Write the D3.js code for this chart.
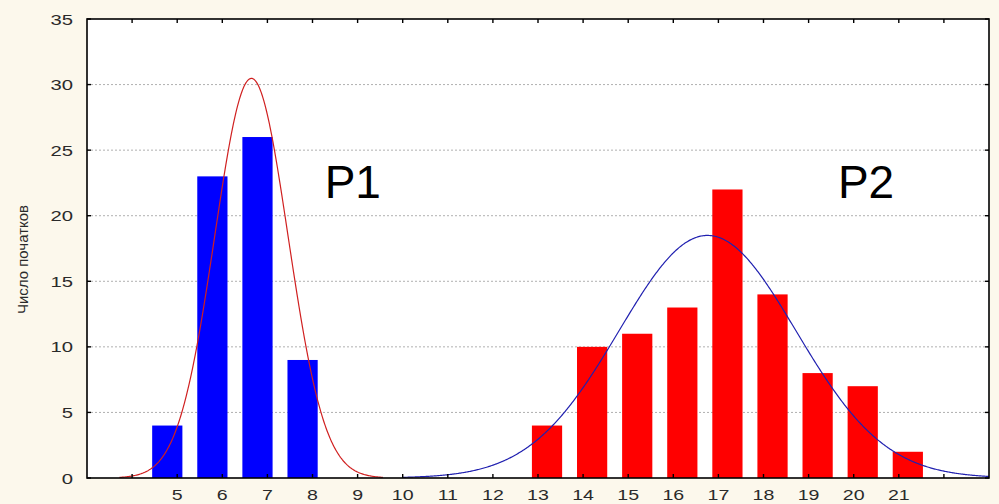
<!DOCTYPE html>
<html><head><meta charset="utf-8">
<script src="https://cdn.jsdelivr.net/npm/d3@7"></script>
<style>
html,body{margin:0;padding:0;background:#fcf8ec;}
svg{display:block;}
</style></head>
<body>
<svg id="chart" width="999" height="504"></svg>
<script>
// ---- data ----
const p1Values = [5, 6, 7, 8];
const p1Counts = [4, 23, 26, 9];
const p2Values = [13, 14, 15, 16, 17, 18, 19, 20, 21];
const p2Counts = [4, 10, 11, 13, 22, 14, 8, 7, 2];
const xTickLabels = [5, 6, 7, 8, 9, 10, 11, 12, 13, 14, 15, 16, 17, 18, 19, 20, 21];
const xTickMarks = [4, 5, 6, 7, 8, 9, 10, 11, 12, 13, 14, 15, 16, 17, 18, 19, 20, 21, 22];
const yTicks = [0, 5, 10, 15, 20, 25, 30, 35];
const yTitle = "Число початков";
const groupLabels = ["P1", "P2"];

// ---- layout ----
const W = 999, H = 504;
const m = {left: 87, top: 19, right: 10, bottom: 26};
const iw = W - m.left - m.right, ih = H - m.top - m.bottom;
const svg = d3.select("#chart");
const g = svg.append("g").attr("transform", `translate(${m.left},${m.top})`);

const x = d3.scaleLinear().domain([3, 23]).range([0, iw]);
const y = d3.scaleLinear().domain([0, 35]).range([ih, 0]);

g.append("rect").attr("width", iw).attr("height", ih).attr("fill", "#ffffff");

// grid
g.selectAll("line.grid").data(yTicks.filter(d => d > 0 && d < 35)).enter().append("line")
  .attr("x1", 0).attr("x2", iw).attr("y1", d => y(d)).attr("y2", d => y(d))
  .attr("stroke", "#b0b0b0").attr("stroke-width", 1).attr("stroke-dasharray", "2,2");

// bars
const barW = x(3.67) - x(3);
function bars(vals, counts, offset, color) {
  g.selectAll(null).data(vals.map((v, i) => ({v, c: counts[i]}))).enter().append("rect")
    .attr("x", d => x(d.v + offset) - barW / 2)
    .attr("width", barW)
    .attr("y", d => y(d.c))
    .attr("height", d => y(0) - y(d.c))
    .attr("fill", color);
}
bars(p1Values, p1Counts, -0.22, "#0000ff");
bars(p2Values, p2Counts, 0.2, "#ff0000");

// fitted normal curves (mean / sd from the data)
function fit(vals, counts) {
  const n = d3.sum(counts);
  const mean = d3.sum(vals.map((v, i) => v * counts[i])) / n;
  const vr = d3.sum(vals.map((v, i) => counts[i] * (v - mean) ** 2)) / (n - 1);
  return {n, mean, sd: Math.sqrt(vr)};
}
function curve(f, x0, x1, color) {
  const pts = d3.range(x0, x1 + 1e-9, 0.02).map(t => [t,
    f.n / (f.sd * Math.sqrt(2 * Math.PI)) * Math.exp(-((t - f.mean) ** 2) / (2 * f.sd * f.sd))]);
  g.append("path").datum(pts)
    .attr("d", d3.line().x(d => x(d[0])).y(d => y(d[1])))
    .attr("fill", "none").attr("stroke", color).attr("stroke-width", 1.2);
}
curve(fit(p1Values, p1Counts), 3.72, 9.57, "#d02020");
curve(fit(p2Values, p2Counts), 10.0, 23, "#2020b0");

// axes frame
g.append("rect").attr("width", iw).attr("height", ih).attr("fill", "none")
  .attr("stroke", "#000").attr("stroke-width", 1.6);

// tick marks (inward)
const tk = 4;
g.selectAll(null).data(xTickMarks).enter().append("line")
  .attr("x1", d => x(d)).attr("x2", d => x(d)).attr("y1", ih).attr("y2", ih - tk)
  .attr("stroke", "#000").attr("stroke-width", 1.4);
g.selectAll(null).data(xTickMarks).enter().append("line")
  .attr("x1", d => x(d)).attr("x2", d => x(d)).attr("y1", 0).attr("y2", tk)
  .attr("stroke", "#000").attr("stroke-width", 1.4);
g.selectAll(null).data(yTicks).enter().append("line")
  .attr("x1", 0).attr("x2", tk).attr("y1", d => y(d)).attr("y2", d => y(d))
  .attr("stroke", "#000").attr("stroke-width", 1.4);
g.selectAll(null).data(yTicks).enter().append("line")
  .attr("x1", iw - tk).attr("x2", iw).attr("y1", d => y(d)).attr("y2", d => y(d))
  .attr("stroke", "#000").attr("stroke-width", 1.4);

// tick labels (horizontally stretched like the original)
const sx = 1.35;
const lblFont = "'Liberation Sans', Arial, sans-serif";
g.selectAll(null).data(xTickLabels).enter().append("text")
  .attr("transform", d => `translate(${x(d)},${ih + 22}) scale(${sx},1)`)
  .attr("text-anchor", "middle")
  .attr("font-family", lblFont).attr("font-size", 14.5).attr("fill", "#2a2a2a")
  .text(d => d);
g.selectAll(null).data(yTicks).enter().append("text")
  .attr("transform", d => `translate(-14,${y(d) + 5.5}) scale(${sx},1)`)
  .attr("text-anchor", "end")
  .attr("font-family", lblFont).attr("font-size", 15).attr("fill", "#2a2a2a")
  .text(d => d);

// y title
svg.append("text")
  .attr("transform", `translate(28,${m.top + ih / 2 + 11}) rotate(-90)`)
  .attr("text-anchor", "middle")
  .attr("font-family", lblFont).attr("font-size", 15).attr("fill", "#2a2a2a")
  .text(yTitle);

// group labels
g.append("text").attr("x", x(8.27)).attr("y", y(21.35))
  .attr("font-family", lblFont).attr("font-size", 46).attr("fill", "#000")
  .text(groupLabels[0]);
g.append("text").attr("x", x(19.65)).attr("y", y(21.35))
  .attr("font-family", lblFont).attr("font-size", 46).attr("fill", "#000")
  .text(groupLabels[1]);
</script>
</body></html>
